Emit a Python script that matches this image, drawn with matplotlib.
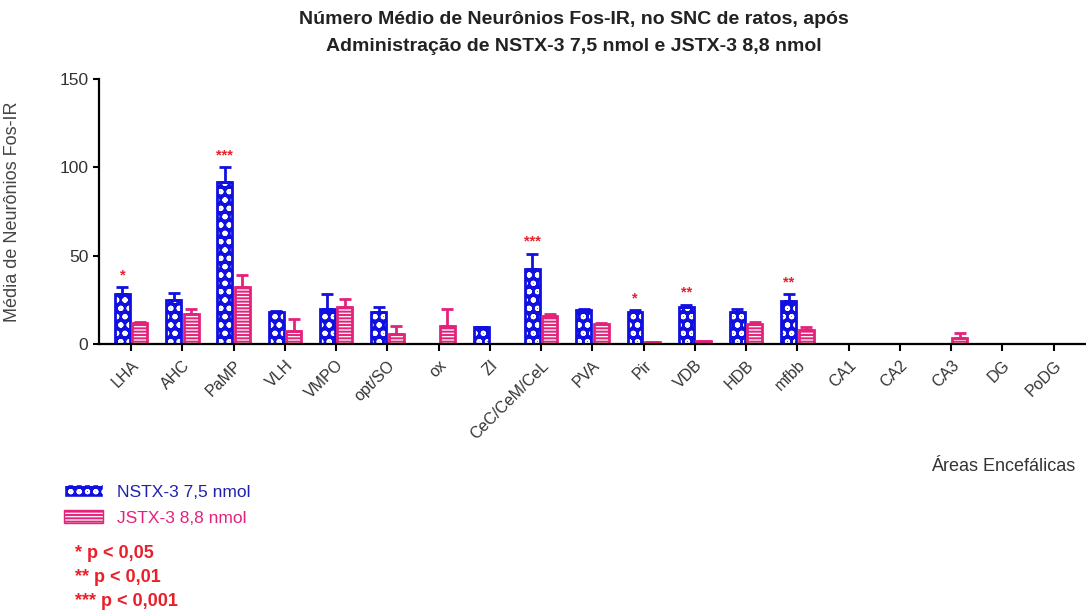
import numpy as np
import matplotlib
matplotlib.use('Agg')
import matplotlib.pyplot as plt
from matplotlib.patches import Patch

areas = ['LHA', 'AHC', 'PaMP', 'VLH', 'VMPO', 'opt/SO', 'ox', 'ZI', 'CeC/CeM/CeL',
         'PVA', 'Pir', 'VDB', 'HDB', 'mfbb', 'CA1', 'CA2', 'CA3', 'DG', 'PoDG']
nstx = [28, 25, 92, 18, 19.5, 18, 0, 9.5, 42.5, 19, 18, 21, 18, 24, 0, 0, 0, 0, 0]
nstx_err = [4, 4, 8, 0.5, 9, 3, 0, 0, 8.5, 0.5, 1, 1, 1.5, 4, 0, 0, 0, 0, 0]
jstx = [12, 17, 32, 7, 21, 5.5, 10, 0, 16, 11, 0.8, 1.5, 11, 8, 0, 0, 3.5, 0, 0]
jstx_err = [0.5, 2.5, 7, 7, 4.5, 4.5, 9.5, 0, 1, 1, 0.3, 0.3, 1.5, 1.5, 0, 0, 2.5, 0, 0]
stars = {'LHA': '*', 'PaMP': '***', 'CeC/CeM/CeL': '***', 'Pir': '*', 'VDB': '**', 'mfbb': '**'}

blue = '#1010e0'
pink = '#e3237b'
red = '#e8202a'

plt.rcParams['font.family'] = ['Liberation Sans', 'DejaVu Sans']
plt.rcParams['hatch.linewidth'] = 1.4

fig = plt.figure(figsize=(10.86, 6.14), dpi=100)
ax = fig.add_axes([0.091, 0.44, 0.909, 0.431])

x = np.arange(len(areas))
w = 0.29
off = 0.17

ax.bar(x - off, nstx, w, color=blue, edgecolor='white', hatch='oo', linewidth=0)
ax.bar(x - off, nstx, w, fill=False, edgecolor=blue, linewidth=2)
ax.bar(x + off, jstx, w, color='#fdf0f5', edgecolor=pink, hatch='-----', linewidth=0)
ax.bar(x + off, jstx, w, fill=False, edgecolor=pink, linewidth=2)

ax.errorbar(x - off, nstx, yerr=[np.zeros(len(x)), nstx_err], fmt='none',
            ecolor=blue, elinewidth=2, capsize=4, capthick=2)
ax.errorbar(x + off, jstx, yerr=[np.zeros(len(x)), jstx_err], fmt='none',
            ecolor=pink, elinewidth=2, capsize=4, capthick=2)

for i, a in enumerate(areas):
    if a in stars:
        ax.text(x[i] - off, nstx[i] + nstx_err[i] + 3, stars[a], color=red,
                ha='center', va='bottom', fontsize=10.5, fontweight='bold')

ax.set_xlim(-0.63, 18.63)
ax.set_ylim(0, 150)
ax.set_yticks([0, 50, 100, 150])
ax.set_xticks(x)
ax.set_xticklabels(areas, rotation=45, ha='right', rotation_mode='anchor',
                   fontsize=11.5, color='#333333')
ax.tick_params(axis='y', labelsize=12.5, labelcolor='#333333', width=1.5, length=4)
ax.tick_params(axis='x', width=1.5, length=5, pad=5)
for s in ['top', 'right']:
    ax.spines[s].set_visible(False)
for s in ['left', 'bottom']:
    ax.spines[s].set_linewidth(1.6)
ax.set_ylabel('Média de Neurônios Fos-IR', fontsize=13, color='#444444')
ax.yaxis.set_label_coords(-0.079, 0.5)

fig.text(0.528, 0.969, 'Número Médio de Neurônios Fos-IR, no SNC de ratos, após',
         ha='center', va='center', fontsize=14, fontweight='bold', color='#222222')
fig.text(0.528, 0.925, 'Administração de NSTX-3 7,5 nmol e JSTX-3 8,8 nmol',
         ha='center', va='center', fontsize=14, fontweight='bold', color='#222222')
fig.text(0.99, 0.24, 'Áreas Encefálicas', ha='right', va='center', fontsize=13, color='#333333')

handles = [Patch(facecolor=blue, edgecolor='white', hatch='oo'),
           Patch(facecolor='#fdf0f5', edgecolor=pink, hatch='-----')]
leg = fig.legend(handles, ['NSTX-3 7,5 nmol', 'JSTX-3 8,8 nmol'], loc='upper left',
                 bbox_to_anchor=(0.045, 0.237), frameon=False, fontsize=12.5,
                 handlelength=2.2, handleheight=0.8, labelspacing=0.6, handletextpad=0.8)
leg.get_texts()[0].set_color('#2020b0')
leg.get_texts()[1].set_color(pink)

fig.text(0.069, 0.099, '* p < 0,05', color=red, fontsize=13, fontweight='bold', va='center')
fig.text(0.069, 0.059, '** p < 0,01', color=red, fontsize=13, fontweight='bold', va='center')
fig.text(0.069, 0.020, '*** p < 0,001', color=red, fontsize=13, fontweight='bold', va='center')

fig.savefig('out.png', dpi=100)
